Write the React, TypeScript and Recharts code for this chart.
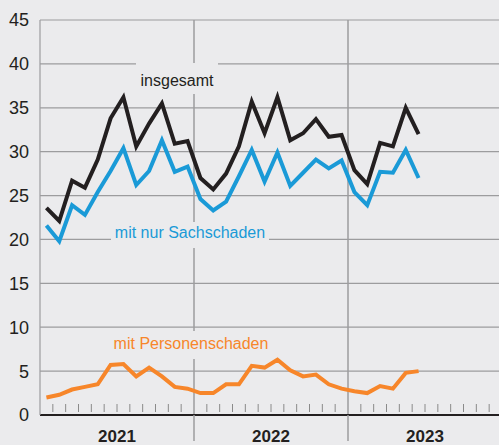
import React from 'react';
import { LineChart, Line, XAxis, YAxis, CartesianGrid, ReferenceLine } from 'recharts';

// monthly values, Jan 2021 - Jun 2023
const months = [
  'Jan 21', 'Feb 21', 'Mär 21', 'Apr 21', 'Mai 21', 'Jun 21', 'Jul 21', 'Aug 21', 'Sep 21', 'Okt 21', 'Nov 21', 'Dez 21',
  'Jan 22', 'Feb 22', 'Mär 22', 'Apr 22', 'Mai 22', 'Jun 22', 'Jul 22', 'Aug 22', 'Sep 22', 'Okt 22', 'Nov 22', 'Dez 22',
  'Jan 23', 'Feb 23', 'Mär 23', 'Apr 23', 'Mai 23', 'Jun 23',
];
const insgesamt = [23.6, 22.1, 26.7, 25.9, 29.1, 33.8, 36.2, 30.6, 33.2, 35.5, 30.9, 31.2, 27.0, 25.7, 27.5, 30.6, 35.7, 32.1, 36.2, 31.3, 32.1, 33.7, 31.7, 31.9, 27.9, 26.3, 31.0, 30.6, 35.0, 32.0];
const sachschaden = [21.6, 19.8, 23.9, 22.8, 25.4, 27.8, 30.4, 26.2, 27.8, 31.3, 27.7, 28.3, 24.6, 23.3, 24.3, 27.2, 30.2, 26.6, 29.9, 26.1, 27.6, 29.1, 28.1, 29.0, 25.4, 23.9, 27.7, 27.6, 30.2, 27.0];
const personenschaden = [2.0, 2.3, 2.9, 3.2, 3.5, 5.7, 5.8, 4.4, 5.4, 4.4, 3.2, 3.0, 2.5, 2.5, 3.5, 3.5, 5.6, 5.4, 6.3, 5.1, 4.4, 4.6, 3.5, 3.0, 2.7, 2.5, 3.3, 3.0, 4.8, 5.0];
const years = ['2021', '2022', '2023'];
const yTicks = [0, 5, 10, 15, 20, 25, 30, 35, 40, 45];

const BG = '#EBEBED';
const GRID = '#9C9C9E';
const BLACK = '#231F20';
const BLUE = '#1A9AD7';
const ORANGE = '#F7862A';
const FONT = '"Liberation Sans", Arial, sans-serif';

const data = months.map((m, i) => ({
  month: m,
  x: i + 0.5,
  insgesamt: insgesamt[i],
  sach: sachschaden[i],
  person: personenschaden[i],
}));

const monthTicks = Array.from({ length: years.length * 12 - 1 }, (_, i) => i + 1);

const MonthTick = ({ x, y, payload }: any) => {
  const v = payload.value;
  if (v % 12 === 0) {
    return <line x1={x} x2={x} y1={y} y2={y + 26} stroke={GRID} strokeWidth={1.5} />;
  }
  return (
    <g>
      <line x1={x} x2={x} y1={y - 11} y2={y - 3} stroke="#8a8a8a" strokeWidth={1} />
      {v % 12 === 6 && (
        <text x={x} y={y + 27} textAnchor="middle" fontWeight="bold" fontSize={17} fill={BLACK} fontFamily={FONT}>
          {years[(v - 6) / 12]}
        </text>
      )}
    </g>
  );
};

export default function App() {
  return (
    <div style={{ position: 'absolute', left: 0, top: 0, width: 499, height: 445, overflow: 'hidden', background: BG }}>
      <LineChart width={510} height={445} data={data} margin={{ top: 20, right: 8, bottom: 0, left: 0 }}>
        <CartesianGrid vertical={false} stroke={GRID} strokeWidth={1.2} />
        <XAxis
          type="number"
          dataKey="x"
          domain={[0, 36]}
          ticks={monthTicks}
          interval={0}
          height={30}
          tickSize={0}
          tickMargin={0}
          tickLine={false}
          axisLine={{ stroke: BLACK, strokeWidth: 2 }}
          tick={<MonthTick />}
        />
        <YAxis
          domain={[0, 45]}
          ticks={yTicks}
          width={40}
          interval={0}
          tickSize={0}
          tickMargin={11}
          tickLine={false}
          axisLine={{ stroke: GRID, strokeWidth: 1.2 }}
          tick={{ fontSize: 18, fill: BLACK, fontFamily: FONT }}
        />
        <ReferenceLine x={12} stroke={GRID} strokeWidth={1.5} />
        <ReferenceLine x={24} stroke={GRID} strokeWidth={1.5} />
        <Line dataKey="insgesamt" stroke={BLACK} strokeWidth={4} dot={false} isAnimationActive={false} type="linear" />
        <Line dataKey="sach" stroke={BLUE} strokeWidth={4} dot={false} isAnimationActive={false} type="linear" />
        <Line dataKey="person" stroke={ORANGE} strokeWidth={4} dot={false} isAnimationActive={false} type="linear" />
      </LineChart>
      <svg width={499} height={445} style={{ position: 'absolute', left: 0, top: 0, pointerEvents: 'none' }}>
        <rect x={136} y={63} width={82} height={31} fill={BG} />
        <text x={177} y={86} textAnchor="middle" fontSize={16} fill={BLACK} fontFamily={FONT}>insgesamt</text>
        <rect x={111} y={222} width={158} height={26} fill={BG} />
        <text x={190} y={238} textAnchor="middle" fontSize={16} fill={BLUE} fontFamily={FONT}>mit nur Sachschaden</text>
        <rect x={111} y={331} width={161} height={28} fill={BG} />
        <text x={191} y={349} textAnchor="middle" fontSize={16} fill={ORANGE} fontFamily={FONT}>mit Personenschaden</text>
      </svg>
    </div>
  );
}
